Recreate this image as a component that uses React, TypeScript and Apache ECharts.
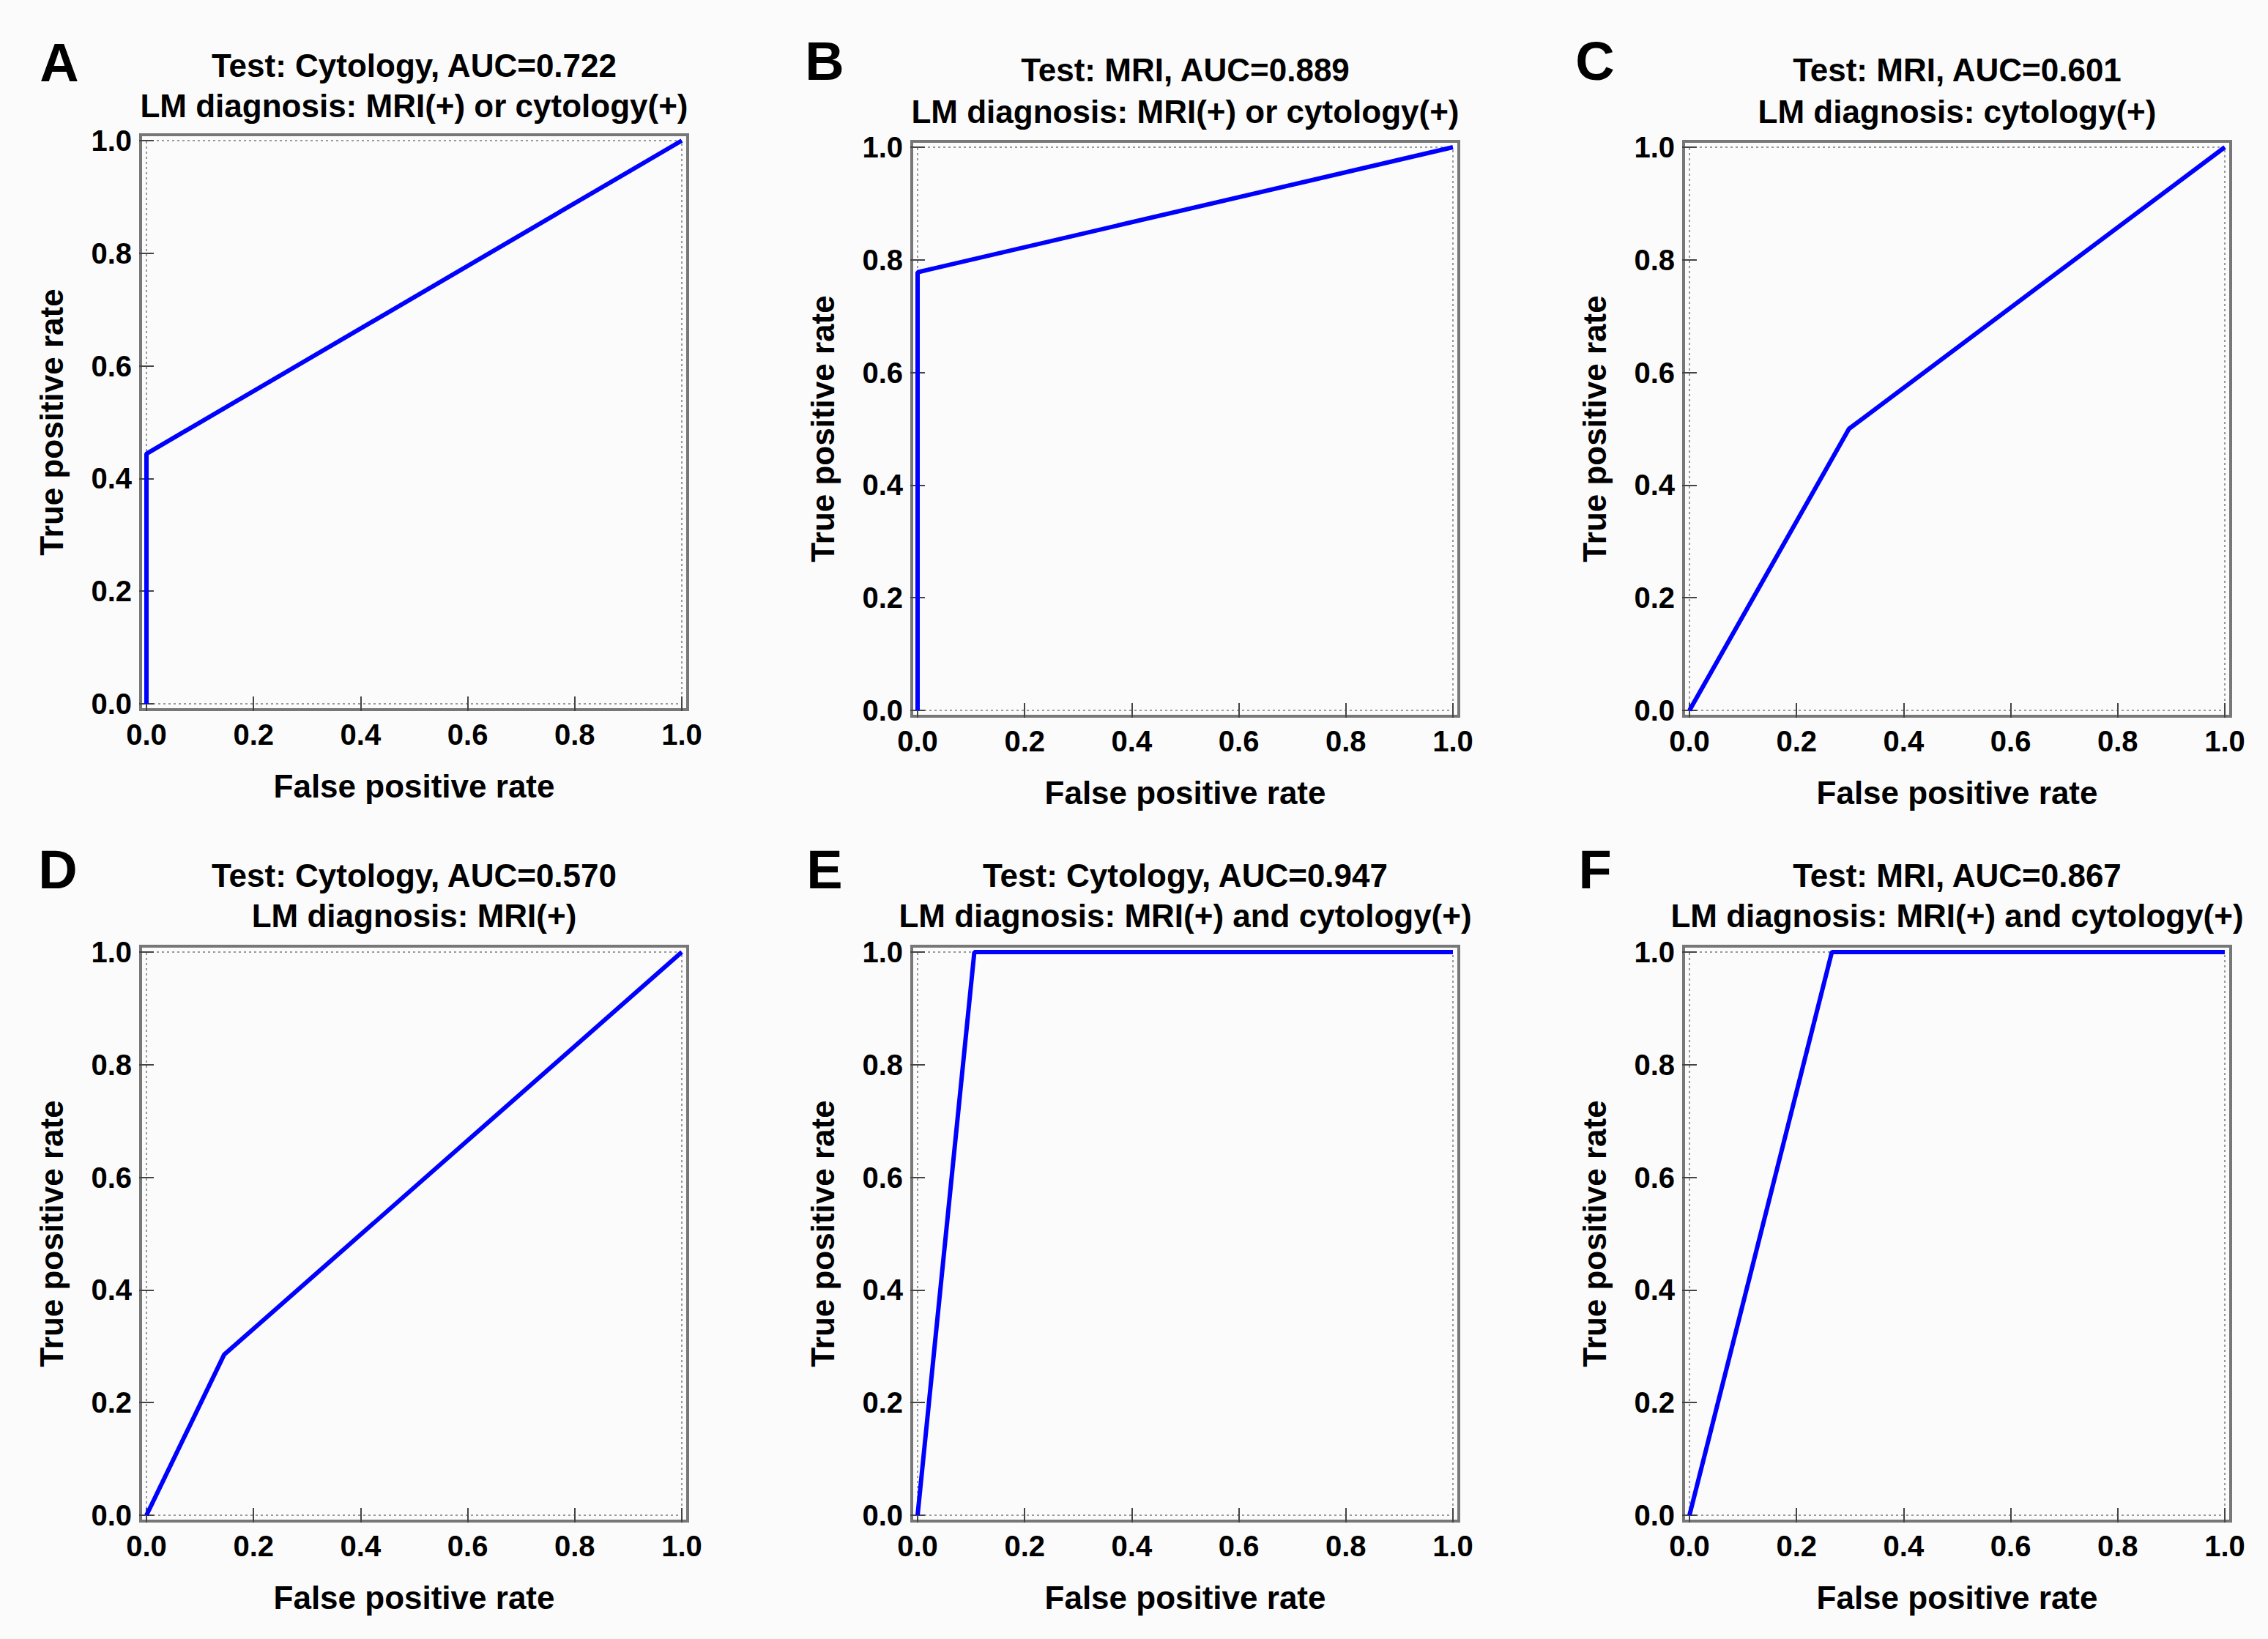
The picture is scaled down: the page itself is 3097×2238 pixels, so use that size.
import React, { useEffect, useRef } from "react";
import * as echarts from "echarts";

// ---- data ----
const panelLetters = ["A", "B", "C", "D", "E", "F"];
const titleLine1 = [
  "Test: Cytology, AUC=0.722",
  "Test: MRI, AUC=0.889",
  "Test: MRI, AUC=0.601",
  "Test: Cytology, AUC=0.570",
  "Test: Cytology, AUC=0.947",
  "Test: MRI, AUC=0.867",
];
const titleLine2 = [
  "LM diagnosis: MRI(+) or cytology(+)",
  "LM diagnosis: MRI(+) or cytology(+)",
  "LM diagnosis: cytology(+)",
  "LM diagnosis: MRI(+)",
  "LM diagnosis: MRI(+) and cytology(+)",
  "LM diagnosis: MRI(+) and cytology(+)",
];
const fprA = [0, 0, 1];
const tprA = [0, 0.444, 1];
const fprB = [0, 0, 1];
const tprB = [0, 0.778, 1];
const fprC = [0, 0.298, 1];
const tprC = [0, 0.5, 1];
const fprD = [0, 0.145, 1];
const tprD = [0, 0.285, 1];
const fprE = [0, 0.106, 1];
const tprE = [0, 1, 1];
const fprF = [0, 0.266, 1];
const tprF = [0, 1, 1];
const fprs = [fprA, fprB, fprC, fprD, fprE, fprF];
const tprs = [tprA, tprB, tprC, tprD, tprE, tprF];
const xAxisName = "False positive rate";
const yAxisName = "True positive rate";

// ---- layout ----
const W = 3097;
const H = 2238;
const panelLeft = [200, 1253, 2307, 200, 1253, 2307];
const panelTop = [192, 201, 201, 1300, 1300, 1300];
const PW = 731;
const PH = 769;
const FRAME_OFF = 8;
const FONT = "'Liberation Sans', Arial, sans-serif";
const letterX = [81, 1126, 2178, 79, 1126, 2178];
const letterY = [85, 83, 83, 1187, 1187, 1187];
const title1Y = [89, 95, 95, 1195, 1195, 1195];
const title2Y = [144, 152, 152, 1250, 1250, 1250];

export default function App() {
  const ref = useRef<HTMLDivElement>(null);
  useEffect(() => {
    document.body.style.margin = "0";
    if (!ref.current) return;
    const chart = echarts.init(ref.current, null, { renderer: "svg" });

    const grids: any[] = [];
    const xAxes: any[] = [];
    const yAxes: any[] = [];
    const series: any[] = [];
    const titles: any[] = [];
    const graphics: any[] = [];

    const tick = { inside: true, length: 10, lineStyle: { color: "#444", width: 2 } };
    const labelStyle = {
      fontSize: 40,
      fontWeight: "bold",
      color: "#000",
      fontFamily: FONT,
      formatter: (v: number) => v.toFixed(1),
    };
    const nameStyle = { fontSize: 44, fontWeight: "bold", color: "#000", fontFamily: FONT };

    for (let i = 0; i < 6; i++) {
      const l = panelLeft[i];
      const t = panelTop[i];
      grids.push({ left: l, top: t, width: PW, height: PH, containLabel: false });
      const common = { type: "value", gridIndex: i, min: 0, max: 1, interval: 0.2, offset: FRAME_OFF, axisLine: { show: false }, splitLine: { show: false }, axisTick: tick };
      xAxes.push({
        ...common,
        position: "bottom",
        axisLabel: { ...labelStyle, margin: 14 },
        name: xAxisName,
        nameLocation: "middle",
        nameGap: 82,
        nameTextStyle: nameStyle,
      });
      xAxes.push({ ...common, position: "top", axisLabel: { show: false } });
      yAxes.push({
        ...common,
        position: "left",
        axisLabel: { ...labelStyle, margin: 12 },
        name: yAxisName,
        nameLocation: "middle",
        nameGap: 100,
        nameTextStyle: nameStyle,
      });
      yAxes.push({ ...common, position: "right", axisLabel: { show: false } });

      series.push({
        type: "line",
        xAxisIndex: 2 * i,
        yAxisIndex: 2 * i,
        data: fprs[i].map((x, k) => [x, tprs[i][k]]),
        symbol: "none",
        clip: false,
        z: 5,
        lineStyle: { color: "#0000ff", width: 6 },
      });

      // frame and dotted boundary
      graphics.push({
        type: "rect",
        z: 0,
        silent: true,
        shape: { x: l - FRAME_OFF, y: t - FRAME_OFF, width: PW + 2 * FRAME_OFF, height: PH + 2 * FRAME_OFF },
        style: { fill: "none", stroke: "#777777", lineWidth: 4 },
      });
      graphics.push({
        type: "rect",
        z: 0,
        silent: true,
        shape: { x: l, y: t, width: PW, height: PH },
        style: { fill: "none", stroke: "#999999", lineWidth: 2, lineDash: [3, 4] },
      });

      const cx = l + PW / 2;
      titles.push({
        text: titleLine1[i],
        left: cx,
        top: title1Y[i],
        textAlign: "center",
        textVerticalAlign: "middle",
        padding: 0,
        textStyle: { fontSize: 44, fontWeight: "bold", color: "#000", fontFamily: FONT },
      });
      titles.push({
        text: titleLine2[i],
        left: cx,
        top: title2Y[i],
        textAlign: "center",
        textVerticalAlign: "middle",
        padding: 0,
        textStyle: { fontSize: 44, fontWeight: "bold", color: "#000", fontFamily: FONT },
      });
      titles.push({
        text: panelLetters[i],
        left: letterX[i],
        top: letterY[i],
        textAlign: "center",
        textVerticalAlign: "middle",
        padding: 0,
        textStyle: { fontSize: 74, fontWeight: "bold", color: "#000", fontFamily: FONT },
      });
    }

    chart.setOption({
      animation: false,
      backgroundColor: "#fbfbfb",
      title: titles,
      grid: grids,
      xAxis: xAxes,
      yAxis: yAxes,
      series,
      graphic: graphics,
    });
    return () => chart.dispose();
  }, []);
  return <div ref={ref} style={{ width: W, height: H }} />;
}
